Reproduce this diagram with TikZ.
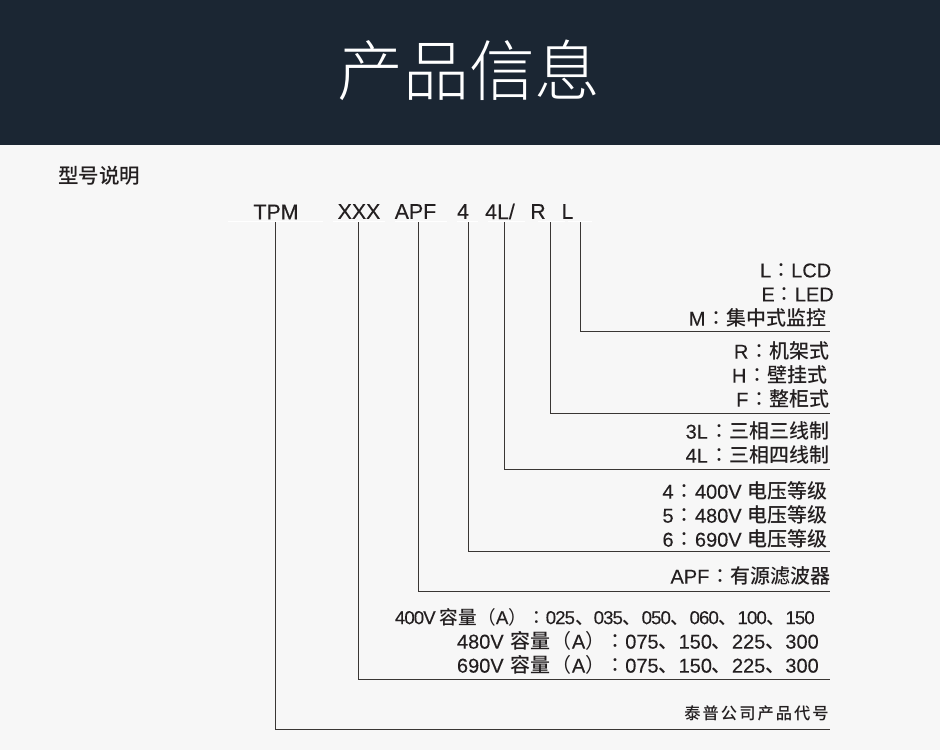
\documentclass[tikz,border=0pt]{standalone}
\usepackage{fontspec}
\setmainfont{Liberation Sans}[FakeBold=0.12]
\newfontfamily\cjk[UprightFont={* Medium}]{Noto Sans CJK SC}
\newfontfamily\cjkpunct{Noto Sans CJK TC}
\newfontfamily\cjktitle[UprightFont={* Light}]{Noto Sans CJK SC}
\newfontfamily\cjkwide[UprightFont={* Medium},LetterSpace=12.5]{Noto Sans CJK SC}
\newfontfamily\narrowfont[FakeBold=0.12,LetterSpace=-5]{Liberation Sans}
\newcommand{\zh}[1]{{\cjk #1}}
\newcommand{\cln}{{\cjkpunct ：}}
\newcommand{\gcln}{\kern1pt\cln}
\newcommand{\lpar}{{\cjkpunct （}}
\newcommand{\rpar}{{\cjkpunct ）}}
\newcommand{\dun}{{\cjk 、}}
\definecolor{headbg}{HTML}{1B2633}
\definecolor{pagebg}{HTML}{F7F7F7}
\definecolor{inkc}{HTML}{231F20}
\definecolor{linec}{HTML}{3A3634}
\tikzset{
	code/.style={inner sep=0pt,text=inkc,font=\fontsize{16pt}{18pt}\selectfont},
	opt/.style={inner sep=0pt,anchor=east,text=inkc,font=\fontsize{15pt}{17pt}\selectfont},
	lead/.style={draw=linec,line width=0.75pt},
	under/.style={draw=white,line width=0.7pt}
}
\begin{document}
\begin{tikzpicture}[x=0.75pt,y=-0.75pt,line cap=butt]
	\useasboundingbox (0,0) rectangle (940,750);
	\fill[pagebg] (0,0) rectangle (940,750);
	\fill[headbg] (0,0) rectangle (940,145);
	\node[inner sep=0pt,text=white,font=\fontsize{49.4pt}{52pt}\selectfont] (title) at (469,70) {\cjktitle 产品信息};
	\node[inner sep=0pt,anchor=west,text=inkc,font=\fontsize{15.4pt}{18pt}\selectfont] (head) at (58,176) {\zh{型号说明}};
	% model code
	\node[code] (cTPM) at (276,212) {TPM};
	\node[code] (cXXX) at (359,211.5) {XXX};
	\node[code] (cAPF) at (415.5,211.5) {APF};
	\node[code] (cVolt) at (463,211.5) {4};
	\node[code] (cWire) at (500,211.5) {4L/};
	\node[code] (cMount) at (538,211.5) {R};
	\node[code] (cDisp) at (567.5,211.5) {L};
	\path (228,221.5)coordinate(u1) (323,221.5)coordinate(u2) (333,221.5)coordinate(u3) (385,221.5)coordinate(u4)
		(395,221.5)coordinate(u5) (447,221.5)coordinate(u6) (457,221.5)coordinate(u7) (478,221.5)coordinate(u8)
		(488,221.5)coordinate(u9) (525,221.5)coordinate(u10) (538,221.5)coordinate(u11) (565,221.5)coordinate(u12)
		(568,221.5)coordinate(u13) (592,221.5)coordinate(u14);
	\draw[under] (u1)--(u2) (u3)--(u4) (u5)--(u6) (u7)--(u8) (u9)--(u10) (u11)--(u12) (u13)--(u14);
	\path (275.5,222)coordinate(sTPM) (358.8,222)coordinate(sXXX) (418.8,222)coordinate(sAPF) (468.5,222)coordinate(sVolt)
		(504.5,222)coordinate(sWire) (550.7,222)coordinate(sMount) (580.7,222)coordinate(sDisp)
		(830,729)coordinate(eTPM) (830,679.7)coordinate(eXXX) (830,591.7)coordinate(eAPF) (830,551.7)coordinate(eVolt)
		(830,469.7)coordinate(eWire) (830,413.7)coordinate(eMount) (830,331.7)coordinate(eDisp);
	\foreach \n in {TPM,XXX,APF,Volt,Wire,Mount,Disp}
		\draw[lead] (s\n)|-(e\n);
	% options
	\node[opt] (dL) at (831.5,270.5) {L\cln LCD};
	\node[opt] (dE) at (834,294.5) {E\cln LED};
	\node[opt] (dM) at (827,318) {M\gcln\zh{集中式监控}};
	\node[opt] (mR) at (830,351) {R\gcln\zh{机架式}};
	\node[opt] (mH) at (828,375) {H\gcln\zh{壁挂式}};
	\node[opt] (mF) at (830,399) {F\gcln\zh{整柜式}};
	\node[opt] (w3) at (829.5,431) {3L\gcln\zh{三相三线制}};
	\node[opt] (w4) at (829.5,455) {4L\gcln\zh{三相四线制}};
	\node[opt] (v4) at (827.5,491) {4\gcln 400V \zh{电压等级}};
	\node[opt] (v5) at (827.5,515) {5\gcln 480V \zh{电压等级}};
	\node[opt] (v6) at (827.5,539) {6\gcln 690V \zh{电压等级}};
	\node[opt] (af) at (831,576) {APF\gcln\zh{有源滤波器}};
	\node[opt,font=\fontsize{14pt}{17pt}\selectfont] (a4) at (815,617) {\narrowfont 400V \zh{容量}\lpar A\rpar\cln 025\dun 035\dun 050\dun 060\dun 100\dun 150};
	\node[opt] (a5) at (819,641) {480V\kern1pt\ \zh{容量}\kern1pt\lpar A\rpar\cln 075\dun 150\dun 225\dun 300};
	\node[opt] (a6) at (819,665) {690V\kern1pt\ \zh{容量}\kern1pt\lpar A\rpar\cln 075\dun 150\dun 225\dun 300};
	\node[inner sep=0pt,anchor=east,text=inkc,font=\fontsize{12.2pt}{14pt}\selectfont] (tp) at (829,713) {\cjkwide 泰普公司产品代号};
\end{tikzpicture}
\end{document}
